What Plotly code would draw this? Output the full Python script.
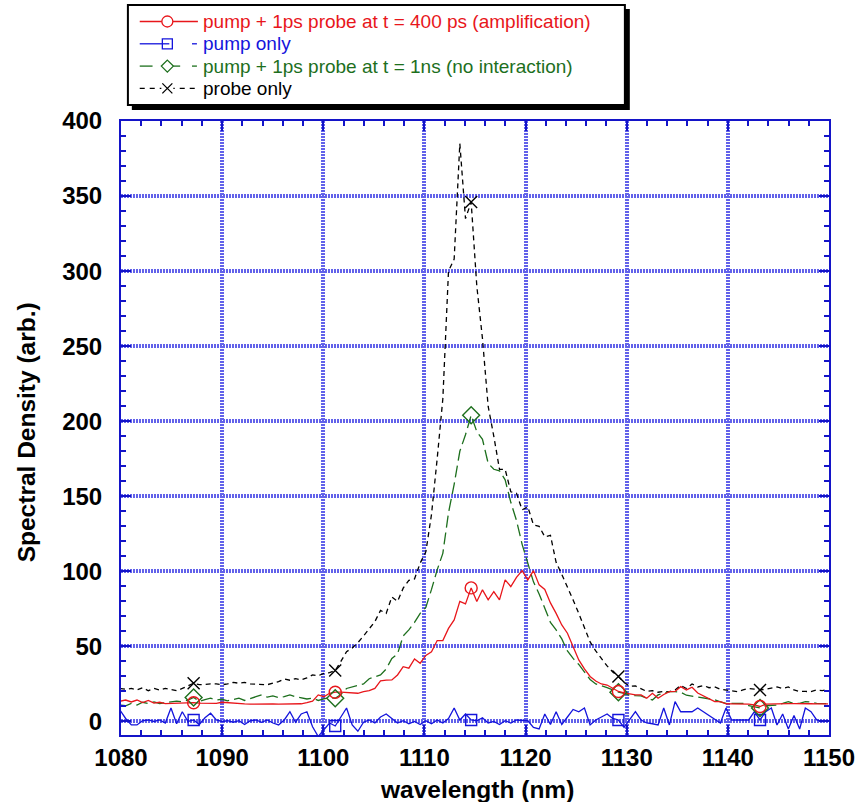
import plotly.graph_objects as go

# ---------------- data ----------------
wavelength = [
    1079.90, 1080.46, 1081.02, 1081.58, 1082.14, 1082.70, 1083.26, 1083.82, 1084.38, 1084.94,
    1085.50, 1086.06, 1086.62, 1087.18, 1087.74, 1088.30, 1088.86, 1089.42, 1089.98, 1090.54,
    1091.10, 1091.66, 1092.22, 1092.78, 1093.34, 1093.90, 1094.46, 1095.02, 1095.58, 1096.14,
    1096.70, 1097.26, 1097.82, 1098.38, 1098.94, 1099.50, 1100.06, 1100.62, 1101.18, 1101.74,
    1102.30, 1102.86, 1103.42, 1103.98, 1104.54, 1105.10, 1105.66, 1106.22, 1106.78, 1107.34,
    1107.90, 1108.46, 1109.02, 1109.58, 1110.14, 1110.70, 1111.26, 1111.82, 1112.38, 1112.94,
    1113.50, 1114.06, 1114.62, 1115.18, 1115.74, 1116.30, 1116.86, 1117.42, 1117.98, 1118.54,
    1119.10, 1119.66, 1120.22, 1120.78, 1121.34, 1121.90, 1122.46, 1123.02, 1123.58, 1124.14,
    1124.70, 1125.26, 1125.82, 1126.38, 1126.94, 1127.50, 1128.06, 1128.62, 1129.18, 1129.74,
    1130.30, 1130.86, 1131.42, 1131.98, 1132.54, 1133.10, 1133.66, 1134.22, 1134.78, 1135.34,
    1135.90, 1136.46, 1137.02, 1137.58, 1138.14, 1138.70, 1139.26, 1139.82, 1140.38, 1140.94,
    1141.50, 1142.06, 1142.62, 1143.18, 1143.74, 1144.30, 1144.86, 1145.42, 1145.98, 1146.54,
    1147.10, 1147.66, 1148.22, 1148.78, 1149.34, 1149.90,
]

amplification = [
    13.5, 14.3, 13.0, 14.3, 12.6, 14.0, 12.2, 12.8, 11.9, 12.1,
    12.0, 12.4, 12.6, 12.5, 12.2, 12.0, 12.0, 12.1, 12.8, 12.5,
    11.9, 11.7, 11.7, 11.6, 11.7, 11.8, 11.7, 11.7, 11.6, 11.7,
    11.7, 11.8, 11.8, 12.5, 13.5, 17.7, 16.5, 18.8, 19.5, 19.5,
    19.2, 19.0, 18.8, 19.9, 20.5, 22.0, 27.0, 27.5, 27.7, 31.0,
    36.5, 35.5, 41.7, 38.8, 44.0, 46.5, 53.9, 53.9, 62.0, 67.7,
    80.0, 78.3, 89.0, 79.9, 87.7, 81.0, 86.5, 81.0, 94.3, 89.9,
    96.0, 100.5, 94.3, 100.5, 91.0, 88.0, 79.0, 72.0, 64.3, 58.8,
    50.0, 41.0, 35.0, 30.0, 27.0, 25.0, 24.3, 22.0, 20.0, 19.0,
    18.3, 17.7, 17.7, 15.5, 18.8, 15.5, 18.0, 19.9, 20.0, 23.2,
    21.0, 22.8, 19.0, 17.0, 15.5, 13.2, 13.2, 11.8, 11.7, 11.7,
    11.7, 11.5, 11.0, 10.0, 11.5, 11.7, 11.7, 11.7, 11.9, 11.9,
    12.0, 12.0, 11.8, 11.7, 11.7, 11.7,
]

pump_only = [
    7.5, 2.0, -2.3, -2.3, 0.5, 1.0, 0.0, 1.0, -1.0, 9.0,
    -1.5, 6.5, 0.0, 1.0, -2.0, 2.5, 5.5, 1.0, 0.0, 0.5,
    -0.5, 0.5, -2.0, 0.5, 1.0, -0.5, 1.0, -1.0, -2.3, 1.0,
    6.5, -0.5, 5.0, 6.5, -3.5, -10.0, -5.5, -1.0, -3.0, 3.0,
    9.0, -2.3, -6.5, -0.5, 1.0, -1.0, 3.0, 5.0, 2.0, -1.0,
    0.5, -1.5, 0.0, -2.0, 0.5, -1.5, 1.0, -1.0, 2.0, 9.0,
    1.0, 5.0, 1.0, 0.5, 2.5, -1.0, 0.0, -2.0, 0.5, -1.0,
    1.0, 1.0, 0.5, -4.0, -5.0, 5.0, -2.0, 6.5, -2.0, 3.0,
    8.0, 6.5, 9.0, -2.3, 1.0, 3.0, 5.0, 2.0, 1.0, -4.0,
    1.0, 6.5, 1.0, -1.0, -1.5, -2.3, 9.0, -2.3, 13.2, 6.5,
    6.5, 6.5, 9.0, 6.5, 4.0, 1.0, -1.0, 9.0, 1.0, 1.0,
    1.0, 1.0, 6.5, 1.0, 6.5, 9.0, -2.3, 5.0, -5.0, 4.0,
    -5.0, 9.0, 6.5, 1.0, 0.0, 0.5,
]

no_interaction = [
    11.0, 10.5, 12.0, 11.0, 12.8, 12.0, 13.0, 12.0, 12.5, 12.8,
    13.5, 13.2, 14.2, 16.0, 13.5, 14.5, 15.5, 14.3, 14.8, 13.8,
    14.5, 15.5, 14.0, 15.5, 16.5, 17.7, 16.2, 17.0, 16.0, 16.5,
    17.7, 16.5, 16.0, 15.0, 15.5, 14.0, 15.0, 16.0, 15.5, 18.0,
    22.0, 23.0, 23.5, 25.0, 28.5, 30.0, 31.0, 35.0, 42.0, 45.0,
    57.0, 61.0, 66.0, 72.0, 76.0, 88.0, 101.0, 112.0, 139.0, 158.0,
    180.0, 191.0, 204.0, 193.0, 188.0, 172.0, 168.0, 167.0, 161.0, 146.0,
    134.0, 118.0, 105.0, 93.0, 85.0, 75.0, 66.0, 61.0, 55.0, 47.0,
    42.0, 38.0, 33.0, 28.0, 25.0, 24.0, 22.5, 21.0, 19.5, 18.8,
    17.5, 17.2, 17.0, 15.5, 14.3, 17.7, 19.0, 19.9, 19.9, 19.5,
    17.5, 17.0, 16.5, 15.5, 15.0, 14.5, 13.0, 12.1, 12.1, 12.0,
    12.0, 10.5, 9.9, 9.0, 10.5, 11.0, 11.0, 12.0, 13.2, 12.0,
    12.1, 13.2, 13.0, 12.0, 12.0, 11.8,
]

probe_only = [
    22.0, 21.5, 22.0, 21.0, 22.5, 20.5, 22.0, 21.0, 22.0, 21.0,
    20.5, 22.0, 24.0, 25.5, 24.5, 25.0, 25.0, 25.0, 24.5, 25.0,
    26.0, 25.5, 26.0, 25.0, 24.8, 25.0, 24.5, 25.5, 26.5, 28.3,
    27.5, 28.5, 27.7, 29.0, 31.0, 30.5, 32.0, 32.5, 34.0, 40.0,
    46.5, 49.0, 52.5, 57.0, 62.0, 66.5, 74.0, 72.0, 83.0, 80.0,
    88.8, 94.0, 95.0, 105.5, 113.0, 138.0, 175.0, 215.0, 300.0, 308.0,
    385.0, 335.0, 346.0, 290.0, 255.0, 210.0, 190.0, 168.0, 168.0, 153.0,
    152.0, 141.0, 143.0, 131.0, 130.0, 123.0, 124.0, 106.0, 98.0, 90.0,
    81.0, 72.0, 62.0, 53.0, 47.0, 42.0, 37.0, 33.0, 30.0, 26.0,
    23.5, 23.7, 22.0, 20.0, 20.5, 19.5, 20.0, 19.9, 21.0, 24.0,
    22.0, 25.0, 23.0, 24.0, 22.5, 23.0, 21.5, 21.0, 20.0, 19.9,
    21.0, 22.0, 21.5, 21.0, 21.5, 22.0, 23.0, 22.0, 23.0, 21.0,
    20.0, 20.0, 19.9, 21.0, 20.5, 21.5,
]

marker_index = [13, 38, 62, 88, 113]

series_names = [
    "pump + 1ps probe at t = 400 ps (amplification)",
    "pump only",
    "pump + 1ps probe at t = 1ns (no interaction)",
    "probe only",
]

x_ticks = [1080, 1090, 1100, 1110, 1120, 1130, 1140, 1150]
y_ticks = [0, 50, 100, 150, 200, 250, 300, 350, 400]

# ---------------- layout helpers ----------------
W, H = 867, 802
ML, MR, MT, MB = 121, 28, 121, 67
PW = W - ML - MR
PH = H - MT - MB


def pxx(p):
    return (p - ML) / PW


def pxy(p):
    return (H - MB - p) / PH


FONT = "Liberation Sans, Arial, Helvetica, sans-serif"
RED = "#e8161b"
BLUE = "#1414dc"
GREEN = "#1d6f1d"
BLACK = "#000000"
AXIS_BLUE = "#1414c8"
GRID_BLUE = "#6262ea"

styles = [
    dict(y=amplification, color=RED, dash="solid", symbol="circle-open", size=12),
    dict(y=pump_only, color=BLUE, dash="solid", symbol="square-open", size=11),
    dict(y=no_interaction, color=GREEN, dash="12px,5px", symbol="diamond-open", size=13),
    dict(y=probe_only, color=BLACK, dash="5px,4px", symbol="x-thin", size=12),
]

fig = go.Figure()

draw_order = [1, 3, 2, 0]
for k in draw_order:
    s = styles[k]
    fig.add_trace(go.Scatter(
        x=wavelength, y=s["y"], mode="lines", name=series_names[k],
        line=dict(color=s["color"], width=1.3, dash=s["dash"]),
        showlegend=False, hoverinfo="skip",
    ))
for k in draw_order:
    s = styles[k]
    fig.add_trace(go.Scatter(
        x=[wavelength[i] for i in marker_index],
        y=[s["y"][i] for i in marker_index],
        mode="markers", name=series_names[k],
        marker=dict(symbol=s["symbol"], size=s["size"], color=s["color"],
                    line=dict(color=s["color"], width=1.4)),
        showlegend=False, hoverinfo="skip",
    ))

# ---------------- legend box (drawn) ----------------
shapes = []
shapes.append(dict(type="rect", xref="paper", yref="paper",
                   x0=pxx(132), x1=pxx(637), y0=pxy(110), y1=pxy(9),
                   fillcolor="black", line=dict(width=0), layer="above"))
shapes.append(dict(type="rect", xref="paper", yref="paper",
                   x0=pxx(128), x1=pxx(632), y0=pxy(105), y1=pxy(5),
                   fillcolor="white", line=dict(color="black", width=2), layer="above"))

row_y = [21.5, 43.8, 66.1, 88.4]
seg_defs = [
    [(140, 199, "solid")],
    [(140, 170, "solid"), (193, 198, "solid")],
    [(140, 153, "solid"), (174, 181, "solid"), (193, 198, "solid")],
    [(140, 199, "5px,5px")],
]
annotations = []
for k in range(4):
    s = styles[k]
    yy = pxy(row_y[k])
    for (a, b, d) in seg_defs[k]:
        shapes.append(dict(type="line", xref="paper", yref="paper",
                           x0=pxx(a), x1=pxx(b), y0=yy, y1=yy,
                           line=dict(color=s["color"], width=1.3, dash=d), layer="above"))
    mx = pxx(168)
    common = dict(xref="paper", yref="paper", xsizemode="pixel", ysizemode="pixel",
                  xanchor=mx, yanchor=yy, layer="above")
    if k == 0:
        shapes.append(dict(type="circle", x0=-5.5, x1=5.5, y0=-5.5, y1=5.5,
                           fillcolor="white", line=dict(color=s["color"], width=1.3), **common))
    elif k == 1:
        shapes.append(dict(type="rect", x0=-5, x1=5, y0=-5, y1=5,
                           line=dict(color=s["color"], width=1.3), **common))
    elif k == 2:
        shapes.append(dict(type="path", path="M 0 6 L 6 0 L 0 -6 L -6 0 Z",
                           fillcolor="white", line=dict(color=s["color"], width=1.3), **common))
    else:
        shapes.append(dict(type="rect", x0=-6, x1=6, y0=-6, y1=6, fillcolor="white",
                           line=dict(width=0), **common))
        shapes.append(dict(type="path", path="M -5 -5 L 5 5 M -5 5 L 5 -5",
                           line=dict(color=s["color"], width=1.3), **common))
    annotations.append(dict(
        xref="paper", yref="paper", x=pxx(203), y=yy, xanchor="left", yanchor="middle",
        text=series_names[k], showarrow=False, borderpad=0,
        font=dict(family=FONT, size=19, color=s["color"]),
    ))

# axis titles
annotations.append(dict(xref="paper", yref="paper", x=pxx(482), y=pxy(789),
                        xanchor="center", yanchor="middle", showarrow=False, borderpad=0,
                        text="<b>wavelength (nm)</b>",
                        font=dict(family=FONT, size=24.5, color="black")))
annotations.append(dict(xref="paper", yref="paper", x=pxx(25), y=pxy(432),
                        xanchor="center", yanchor="middle", showarrow=False, textangle=-90,
                        borderpad=0,
                        text="<b>Spectral Density (arb.)</b>",
                        font=dict(family=FONT, size=24.5, color="black")))

axis_common = dict(
    showline=True, linecolor=AXIS_BLUE, linewidth=2, mirror="ticks",
    ticks="inside", ticklen=10, tickwidth=1.5, tickcolor=AXIS_BLUE,
    showgrid=True, gridcolor=GRID_BLUE, gridwidth=3.5, griddash="2px,1px",
    zeroline=False,
    tickfont=dict(family=FONT, size=24, color="black", weight="bold"),
)

fig.update_xaxes(range=[1080, 1150], tickmode="array", tickvals=x_ticks,
                 ticktext=[str(v) for v in x_ticks], ticklabelstandoff=0,
                 minor=dict(dtick=2, tick0=1080, ticks="inside", ticklen=5,
                            tickwidth=1.5, tickcolor=AXIS_BLUE, showgrid=False),
                 **axis_common)
fig.update_yaxes(range=[-9, 400], tickmode="array", tickvals=y_ticks,
                 ticktext=[str(v) for v in y_ticks], ticklabelstandoff=12,
                 minor=dict(dtick=10, tick0=0, ticks="inside", ticklen=5,
                            tickwidth=1.5, tickcolor=AXIS_BLUE, showgrid=False),
                 **axis_common)

fig.update_layout(
    width=W, height=H,
    margin=dict(l=ML, r=MR, t=MT, b=MB, pad=0),
    paper_bgcolor="white", plot_bgcolor="white",
    showlegend=False,
    shapes=shapes, annotations=annotations,
    font=dict(family=FONT, color="black"),
)

fig.write_html("out.html")
